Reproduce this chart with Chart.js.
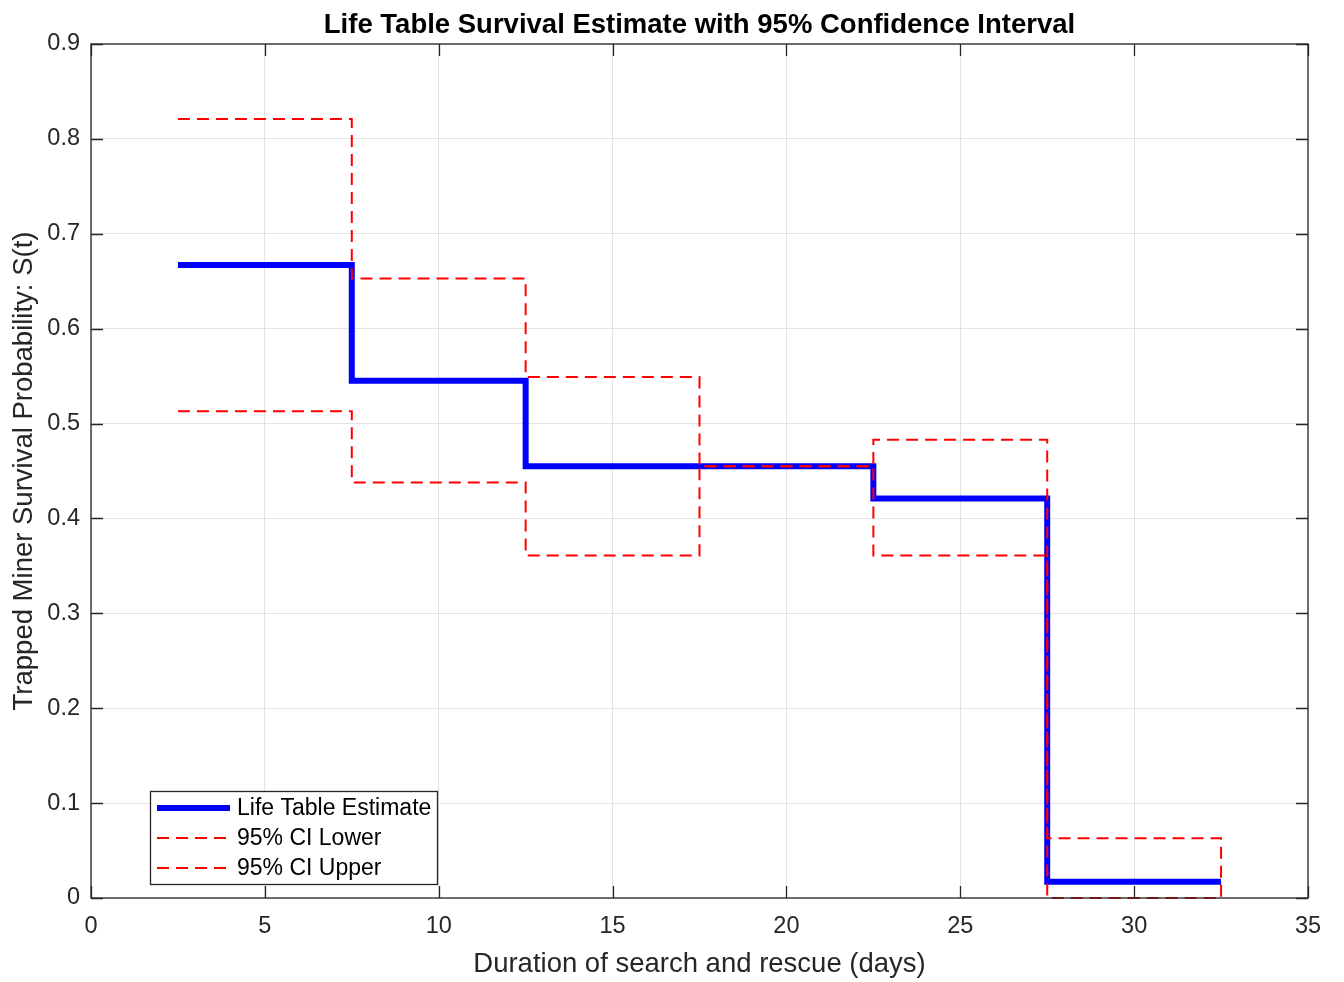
<!DOCTYPE html>
<html>
<head>
<meta charset="utf-8">
<script src="https://cdn.jsdelivr.net/npm/chart.js@4.4.0/dist/chart.umd.min.js"></script>
<style>
  html, body { margin: 0; padding: 0; background: #fff; }
  #wrap { width: 1344px; height: 982px; }
</style>
</head>
<body>
<div id="wrap"><canvas id="lifeChart" width="1344" height="982"></canvas></div>
<script>
// ---- data ----
const stepX = [2.5, 7.5, 12.5, 17.5, 22.5, 27.5, 32.5];
const estimate = [0.667, 0.545, 0.455, 0.455, 0.421, 0.017, 0.017];
const ciLower = [0.513, 0.438, 0.361, 0.455, 0.361, 0.0, 0.0];
const ciUpper = [0.821, 0.653, 0.549, 0.455, 0.483, 0.063, 0.0];
const xTicks = [0, 5, 10, 15, 20, 25, 30, 35];
const yTicks = [0, 0.1, 0.2, 0.3, 0.4, 0.5, 0.6, 0.7, 0.8, 0.9];
const legendLabels = ['Life Table Estimate', '95% CI Lower', '95% CI Upper'];

const FONT = '"Liberation Sans", Arial, Helvetica, sans-serif';
const AXIS_COLOR = '#262626';
const BLUE = '#0000ff';
const RED = '#ff0000';

function pts(ys) {
    return stepX.map((x, i) => ({ x: x, y: ys[i] }));
}

// white page + title + matlab style box, inward ticks and a legend inside the axes
const matlabLook = {
    id: 'matlabLook',
    beforeDraw(chart) {
        const ctx = chart.ctx;
        ctx.save();
        ctx.fillStyle = '#fff';
        ctx.fillRect(0, 0, chart.width, chart.height);
        ctx.restore();
    },
    afterDatasetsDraw(chart) {
        const ctx = chart.ctx;
        const a = chart.chartArea;
        const xs = chart.scales.x, ys = chart.scales.y;
        ctx.save();
        // box
        ctx.strokeStyle = AXIS_COLOR;
        ctx.lineWidth = 1.3;
        ctx.strokeRect(a.left, a.top, a.right - a.left, a.bottom - a.top);
        // inward ticks
        const tl = 12;
        ctx.beginPath();
        xTicks.forEach(v => {
            const px = Math.round(xs.getPixelForValue(v)) + 0.5;
            ctx.moveTo(px, a.bottom); ctx.lineTo(px, a.bottom - tl);
            ctx.moveTo(px, a.top); ctx.lineTo(px, a.top + tl);
        });
        yTicks.forEach(v => {
            const py = Math.round(ys.getPixelForValue(v)) + 0.5;
            ctx.moveTo(a.left, py); ctx.lineTo(a.left + tl, py);
            ctx.moveTo(a.right, py); ctx.lineTo(a.right - tl, py);
        });
        ctx.stroke();

        // title
        ctx.fillStyle = '#000';
        ctx.font = 'bold 27.5px ' + FONT;
        ctx.textAlign = 'center';
        ctx.textBaseline = 'middle';
        ctx.fillText('Life Table Survival Estimate with 95% Confidence Interval', (a.left + a.right) / 2, 25);

        // legend
        const lx = 150, ly = 791, lw = 287, lh = 93;
        ctx.fillStyle = '#fff';
        ctx.fillRect(lx, ly, lw, lh);
        ctx.strokeStyle = AXIS_COLOR;
        ctx.lineWidth = 1.3;
        ctx.strokeRect(lx + 0.5, ly + 0.5, lw, lh);
        const rows = [808, 838, 868];
        rows.forEach((ry, i) => {
            ctx.beginPath();
            if (i === 0) {
                ctx.strokeStyle = BLUE; ctx.lineWidth = 6; ctx.setLineDash([]);
            } else {
                ctx.strokeStyle = RED; ctx.lineWidth = 2; ctx.setLineDash([12, 7]);
            }
            ctx.moveTo(157, ry); ctx.lineTo(230, ry);
            ctx.stroke();
            ctx.setLineDash([]);
            ctx.fillStyle = '#000';
            ctx.font = '23px ' + FONT;
            ctx.textAlign = 'left';
            ctx.textBaseline = 'middle';
            ctx.fillText(legendLabels[i], 237, ry + 1);
        });
        ctx.restore();
    }
};

new Chart(document.getElementById('lifeChart'), {
    type: 'line',
    data: {
        datasets: [
            {
                label: legendLabels[1],
                data: pts(ciLower),
                borderColor: RED,
                borderWidth: 2,
                borderDash: [12, 7],
                stepped: 'before',
                pointRadius: 0,
                fill: false,
                clip: false,
                order: 0
            },
            {
                label: legendLabels[2],
                data: pts(ciUpper),
                borderColor: RED,
                borderWidth: 2,
                borderDash: [12, 7],
                stepped: 'before',
                pointRadius: 0,
                fill: false,
                clip: false,
                order: 1
            },
            {
                label: legendLabels[0],
                data: pts(estimate),
                borderColor: BLUE,
                borderWidth: 6,
                stepped: 'before',
                pointRadius: 0,
                fill: false,
                order: 2
            }
        ]
    },
    options: {
        responsive: false,
        animation: false,
        devicePixelRatio: 1,
        layout: { padding: { top: 44, right: 36, left: 0, bottom: 0 } },
        plugins: {
            legend: { display: false },
            title: { display: false },
            tooltip: { enabled: false }
        },
        scales: {
            x: {
                type: 'linear',
                min: 0,
                max: 35,
                afterFit(scale) { scale.height = 84; },
                afterBuildTicks(scale) { scale.ticks = xTicks.map(v => ({ value: v })); },
                grid: { color: '#e3e3e3', lineWidth: 1, drawTicks: false },
                border: { display: false },
                ticks: {
                    color: AXIS_COLOR,
                    font: { family: FONT, size: 23.5 },
                    padding: 14,
                    maxRotation: 0
                },
                title: {
                    display: true,
                    text: 'Duration of search and rescue (days)',
                    color: AXIS_COLOR,
                    font: { family: FONT, size: 27.5 },
                    padding: { top: 0, bottom: 1 }
                }
            },
            y: {
                type: 'linear',
                min: 0,
                max: 0.9,
                afterFit(scale) { scale.width = 91; },
                afterBuildTicks(scale) { scale.ticks = yTicks.map(v => ({ value: v })); },
                grid: { color: '#e3e3e3', lineWidth: 1, drawTicks: false },
                border: { display: false },
                ticks: {
                    color: AXIS_COLOR,
                    font: { family: FONT, size: 23.5 },
                    padding: 11,
                    callback: v => (v === 0 ? '0' : v.toFixed(1))
                },
                title: {
                    display: true,
                    text: 'Trapped Miner Survival Probability: S(t)',
                    color: AXIS_COLOR,
                    font: { family: FONT, size: 27.5 },
                    padding: { top: 8, bottom: 0 }
                }
            }
        }
    },
    plugins: [matlabLook]
});
</script>
</body>
</html>
